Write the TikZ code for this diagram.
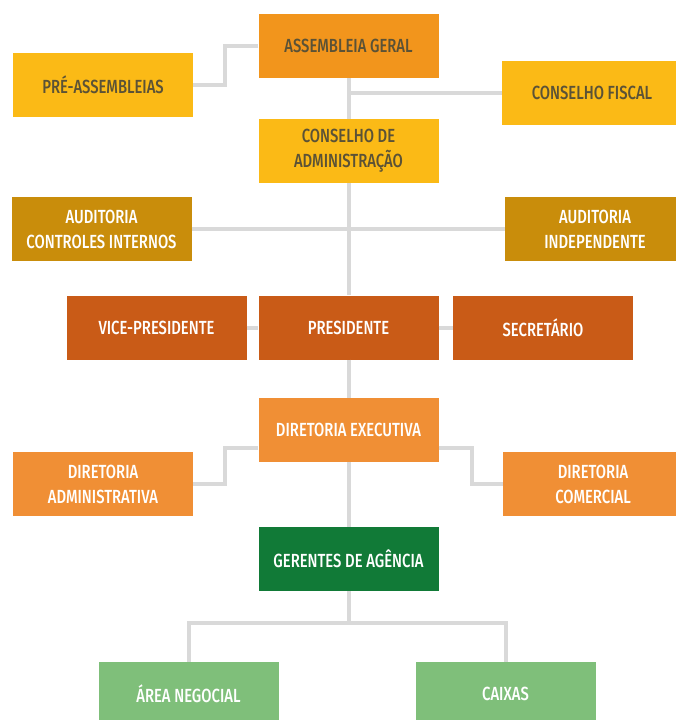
\documentclass[tikz,border=0pt]{standalone}
\usepackage{fontspec}
\setmainfont{Fira Sans Medium}[FakeStretch=0.78]
\usetikzlibrary{positioning}

\definecolor{linegray}{HTML}{D9D9D9}
\definecolor{txtdark}{HTML}{5B5236}
\definecolor{agorange}{HTML}{F2951C}
\definecolor{boxyellow}{HTML}{FBBA16}
\definecolor{boxgold}{HTML}{C98D0B}
\definecolor{boxrust}{HTML}{C95B17}
\definecolor{boxorange}{HTML}{F08F35}
\definecolor{boxgreen}{HTML}{117A37}
\definecolor{boxlight}{HTML}{7FBF7A}

\tikzset{
  unit/.style={rectangle,minimum width=180pt,minimum height=64pt,inner sep=0pt,
    align=center,font=\fontsize{19}{25}\selectfont,text=white},
  darktext/.style={text=txtdark},
  conn/.style={draw=linegray,line width=4pt}
}

\begin{document}
\begin{tikzpicture}[x=1pt,y=-1pt]
\fill[white] (0,0) rectangle (675,720);
\useasboundingbox (0,0) rectangle (675,720);

\node[unit,darktext,fill=agorange] (ag) at (348.5,46) {ASSEMBLEIA GERAL};
\node[unit,darktext,fill=boxyellow] (pa) at (103,84.5) {PRÉ-ASSEMBLEIAS};
\node[unit,darktext,fill=boxyellow] (cf) at (592,93) {CONSELHO FISCAL};
\node[unit,darktext,fill=boxyellow] (ca) at (348.5,151) {CONSELHO DE\\ADMINISTRAÇÃO};

\node[unit,fill=boxgold] (aci) at (101.5,229) {AUDITORIA\\CONTROLES INTERNOS};
\node[unit,fill=boxgold] (ai) at (595,229) {AUDITORIA\\INDEPENDENTE};

\node[unit,fill=boxrust] (pres) at (348.5,327.5) {PRESIDENTE};
\node[unit,fill=boxrust] (vp) at (156.5,327.5) {VICE-PRESIDENTE};
\node[unit,fill=boxrust] (sec) at (543,327.5) {SECRETÁRIO};

\node[unit,fill=boxorange] (de) at (348.5,430) {DIRETORIA EXECUTIVA};
\node[unit,fill=boxorange] (da) at (103,484) {DIRETORIA\\ADMINISTRATIVA};
\node[unit,fill=boxorange] (dc) at (593,484) {DIRETORIA\\COMERCIAL};

\node[unit,fill=boxgreen] (ga) at (348.5,559) {GERENTES DE AGÊNCIA};
\node[unit,fill=boxlight] (an) at (188.5,694) {ÁREA NEGOCIAL};
\node[unit,fill=boxlight] (cx) at (505.5,694) {CAIXAS};

\draw[conn] (ag.west) -- ++(-33,0) |- (pa.east);
\draw[conn] (ag.south) -- (ca.north);
\draw[conn] (ag.south |- cf.west) -- (cf.west);
\draw[conn] (ca.south) -- (pres.north);
\draw[conn] (aci.east) -- (ai.west);
\draw[conn] (vp.east) -- (pres.west);
\draw[conn] (pres.east) -- (sec.west);
\draw[conn] (pres.south) -- (de.north);
\draw[conn] ([yshift=-18pt]de.west) -- ++(-33,0) |- (da.east);
\draw[conn] ([yshift=-18pt]de.east) -- ++(33,0) |- (dc.west);
\draw[conn] (de.south) -- (ga.north);
\draw[conn] (ga.south) -- ++(0,32) coordinate (split) -| (an.north);
\draw[conn] (split) -| (cx.north);
\end{tikzpicture}
\end{document}
